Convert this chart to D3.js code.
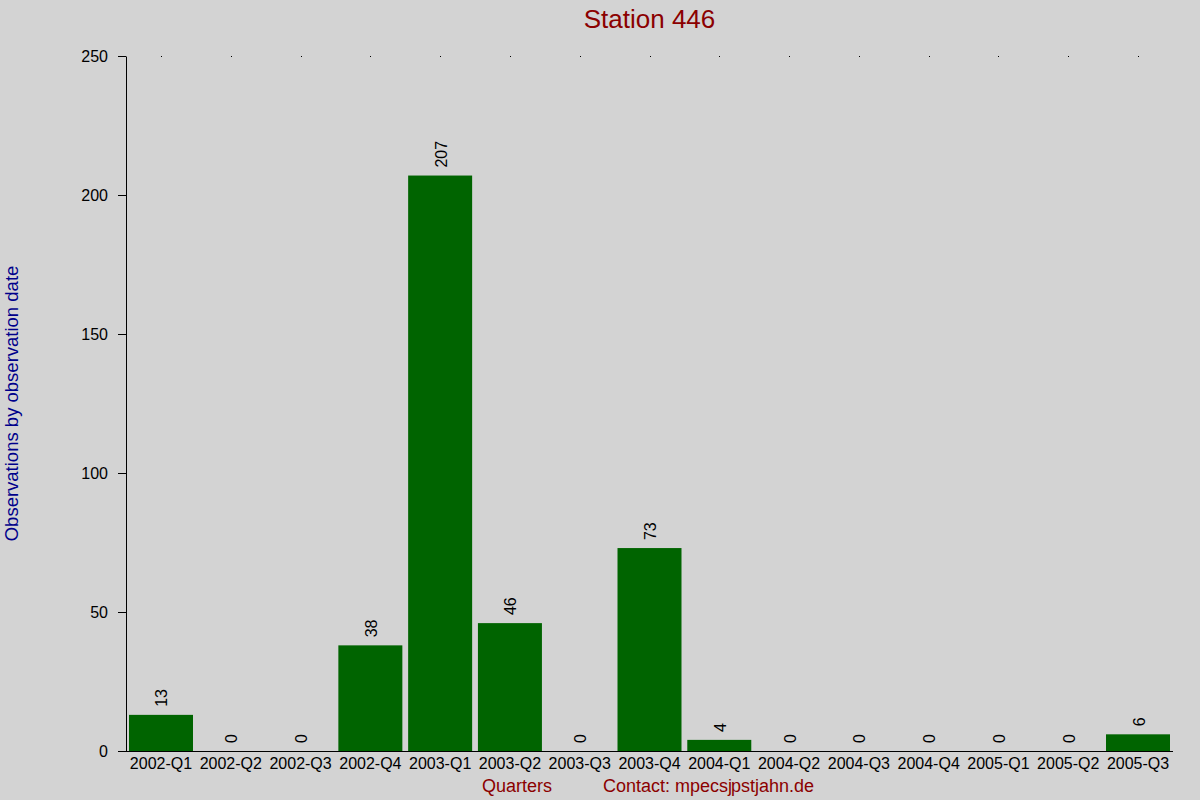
<html>
<head>
<title>Station 446</title>
<script src="https://d3js.org/d3.v7.min.js"></script>
<style>
body { margin: 0; background: #d3d3d3; }
text { font-family: "Liberation Sans", Arial, sans-serif; }
</style>
</head>
<body>
<script>
// chart data
var quarters = ["2002-Q1","2002-Q2","2002-Q3","2002-Q4","2003-Q1","2003-Q2","2003-Q3",
                "2003-Q4","2004-Q1","2004-Q2","2004-Q3","2004-Q4","2005-Q1","2005-Q2","2005-Q3"];
var counts = [13, 0, 0, 38, 207, 46, 0, 73, 4, 0, 0, 0, 0, 0, 6];
var yTicks = [0, 50, 100, 150, 200, 250];

var data = quarters.map(function(q, i) { return {q: q, n: counts[i]}; });

// plot box (note: "top" is a reserved window name, so use a plain object)
var W = 1200, H = 800;
var plot = {left: 126, right: 1173, top: 56, bottom: 751};
var fontStack = "Liberation Sans, Arial, sans-serif";

var svg = d3.select("body").append("svg")
    .attr("width", W)
    .attr("height", H)
    .style("display", "block");

svg.append("rect").attr("width", W).attr("height", H).attr("fill", "#d3d3d3");

var x = d3.scaleBand()
    .domain(quarters)
    .range([plot.left, plot.right])
    .paddingInner(0.083)
    .paddingOuter(0.043);

var y = d3.scaleLinear()
    .domain([0, 250])
    .range([plot.bottom, plot.top]);

// bars
svg.selectAll(".bar")
    .data(data)
  .enter().append("rect")
    .attr("class", "bar")
    .attr("x", function(d) { return x(d.q); })
    .attr("width", x.bandwidth())
    .attr("y", function(d) { return y(d.n); })
    .attr("height", function(d) { return plot.bottom - y(d.n); })
    .attr("fill", "#006400");

// value labels, rotated
svg.selectAll(".val")
    .data(data)
  .enter().append("text")
    .attr("class", "val")
    .attr("transform", function(d) {
        return "translate(" + (x(d.q) + x.bandwidth() / 2 + 1) + "," + (y(d.n) - 8) + ") rotate(-90)";
    })
    .attr("dominant-baseline", "central")
    .attr("font-size", "16px")
    .attr("fill", "#000")
    .text(function(d) { return d.n; });

// top dots at each category
svg.selectAll(".dot")
    .data(quarters)
  .enter().append("rect")
    .attr("x", function(d) { return Math.round(x(d) + x.bandwidth() / 2); })
    .attr("y", plot.top)
    .attr("width", 1)
    .attr("height", 1)
    .attr("fill", "#000");

// y axis
var yAxis = svg.append("g")
    .attr("transform", "translate(" + plot.left + ",0)")
    .call(d3.axisLeft(y).tickValues(yTicks).tickSize(8).tickSizeOuter(0).tickPadding(10));
yAxis.select(".domain").attr("stroke", "#000");
yAxis.selectAll("text").attr("font-size", "16px").attr("font-family", fontStack);

// x axis
var xAxis = svg.append("g")
    .attr("transform", "translate(0," + plot.bottom + ")")
    .call(d3.axisBottom(x).tickSize(0).tickSizeOuter(0).tickPadding(7));
xAxis.select(".domain").attr("stroke", "#000").attr("d", "M" + (plot.left - 8) + ",0.5H" + plot.right);
xAxis.selectAll("text").attr("font-size", "16px").attr("font-family", fontStack);

// title
svg.append("text")
    .attr("x", (plot.left + plot.right) / 2)
    .attr("y", 28)
    .attr("text-anchor", "middle")
    .attr("font-size", "26px")
    .attr("fill", "#8b0000")
    .text("Station 446");

// y label
svg.append("text")
    .attr("transform", "translate(11.5," + ((plot.top + plot.bottom) / 2) + ") rotate(-90)")
    .attr("text-anchor", "middle")
    .attr("dominant-baseline", "central")
    .attr("font-size", "18.5px")
    .attr("fill", "#00008b")
    .text("Observations by observation date");

// footer
svg.append("text")
    .attr("x", 482)
    .attr("y", 792)
    .attr("font-size", "18px")
    .attr("fill", "#8b0000")
    .text("Quarters");

var contact = svg.append("text")
    .attr("x", 603)
    .attr("y", 792)
    .attr("font-size", "18px")
    .attr("fill", "#8b0000");
contact.append("tspan").text("Contact: mpecs");
contact.append("tspan").text("j");
contact.append("tspan").attr("dx", -1).text("pstjahn.de");
</script>
</body>
</html>
